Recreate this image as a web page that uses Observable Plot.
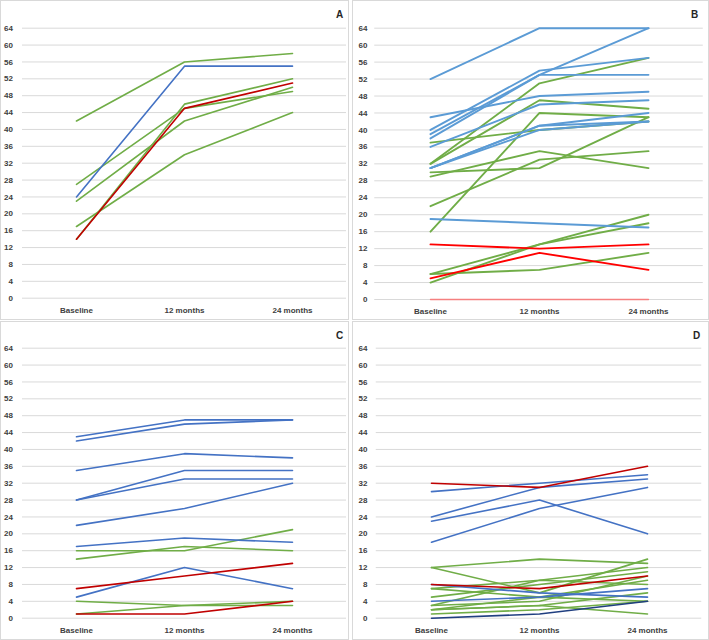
<!DOCTYPE html>
<html>
<head>
<meta charset="utf-8">
<script src="https://cdn.jsdelivr.net/npm/d3@7"></script>
<script src="https://cdn.jsdelivr.net/npm/@observablehq/plot@0.6"></script>
<style>
  html, body { margin: 0; padding: 0; background: #ffffff; }
  #root { position: relative; width: 709px; height: 640px; overflow: hidden; background: #fff; }
  .panel { position: absolute; }
  .border { position: absolute; box-sizing: border-box; border: 1px solid #d9d9d9; pointer-events: none; }
</style>
</head>
<body>
<div id="root"></div>
<script>
// ---------- data ----------
const months = ["Baseline", "12 months", "24 months"];
const yTicks = [0, 4, 8, 12, 16, 20, 24, 28, 32, 36, 40, 44, 48, 52, 56, 60, 64];
const panelLetters = ["A", "B", "C", "D"];

// Panel A
const A_green = [[42, 56, 58], [27, 45, 49], [23, 42, 50], [17, 34, 44], [14, 46, 52]];
const A_blue  = [[24, 55, 55]];
const A_red   = [[14, 45, 51]];

// Panel B
const B_green = [[37, 40, 42], [32, 51, 57], [32, 47, 45], [30, 31, 43], [29, 35, 31],
                 [22, 33, 35], [16, 44, 43], [6, 13, 20], [6, 7, 11], [4, 13, 18]];
const B_blue  = [[52, 64, 64], [43, 48, 49], [40, 54, 57], [39, 53, 64], [38, 53, 53],
                 [36, 46, 47], [31, 41, 44], [31, 41, 42], [31, 40, 42], [19, 18, 17]];
const B_red   = [[13, 12, 13], [5, 11, 7]];
const B_redZero = [[0, 0, 0]];

// Panel C
const C_green = [[16, 16, 21], [14, 17, 16], [4, 3, 3], [1, 3, 4]];
const C_blue  = [[43, 47, 47], [42, 46, 47], [35, 39, 38], [28, 35, 35], [28, 33, 33],
                 [22, 26, 32], [17, 19, 18], [5, 12, 7]];
const C_red   = [[7, 10, 13], [1, 1, 4]];

// Panel D
const D_green = [[12, 14, 13], [12, 6, 14], [7, 9, 12], [7, 5, 9], [5, 8, 11], [3, 9, 8],
                 [3, 4, 10], [2, 3, 6], [2, 5, 4], [2, 3, 1], [1, 2, 4]];
const D_blue  = [[30, 32, 34], [24, 31, 33], [23, 28, 20], [18, 26, 31], [8, 6, 5], [4, 5, 7]];
const D_navy  = [[0, 1, 4]];
const D_red   = [[32, 31, 36], [8, 7, 10]];

// ---------- layout / style (page coordinates) ----------
const layouts = {
  A: {box: [0, 0, 349, 320],   yTop: 27.7,  yBot: 297.7, xBase: 76,  x24: 292, labRight: 12.5, letter: [339, 14], blue: "#4472C4", red: "#C00000", sw: 1.6},
  B: {box: [352, 0, 357, 320], yTop: 27.7,  yBot: 299,   xBase: 429, x24: 648, labRight: 367,  letter: [694, 14], blue: "#5B9BD5", red: "#FF0000", sw: 1.9},
  C: {box: [0, 321, 349, 319], yTop: 347.7, yBot: 617.7, xBase: 76,  x24: 292, labRight: 12.5, letter: [339, 335], blue: "#4472C4", red: "#C00000", sw: 1.6},
  D: {box: [352, 321, 357, 319], yTop: 347.7, yBot: 617.7, xBase: 430, x24: 647, labRight: 367, letter: [696, 335], blue: "#4472C4", red: "#C00000", sw: 1.6}
};
const GREEN = "#70AD47";
const NAVY = "#203F80";
const LIGHTRED = "#F58080";

const panelData = {
  A: [["green", A_green], ["blue", A_blue], ["red", A_red]],
  B: [["green", B_green], ["blue", B_blue], ["lightred", B_redZero], ["red", B_red]],
  C: [["green", C_green], ["blue", C_blue], ["red", C_red]],
  D: [["green", D_green], ["blue", D_blue], ["navy", D_navy], ["red", D_red]]
};

function tidy(groups) {
  const out = [];
  groups.forEach(([color, series]) => {
    series.forEach((vals, i) => {
      vals.forEach((v, j) => out.push({id: color + i, color, t: months[j], v}));
    });
  });
  return out;
}

const root = document.getElementById("root");

panelLetters.forEach(L => {
  const c = layouts[L];
  const [bx, by, bw, bh] = c.box;
  const step = (c.x24 - c.xBase) / 2;
  const xStart = c.xBase - step / 2;
  const ml = xStart - bx;
  const mr = bw - (ml + 3 * step);
  const mt = c.yTop - by;
  const mb = by + bh - c.yBot;
  const rows = tidy(panelData[L]);
  const colorOf = {green: GREEN, blue: c.blue, red: c.red, navy: NAVY, lightred: LIGHTRED};

  const marks = [
    Plot.ruleY(yTicks, {stroke: "#d9d9d9", strokeWidth: 1}),
    Plot.axisY(yTicks, {tickSize: 0, tickPadding: xStart - c.labRight, fill: "#404040"}),
    Plot.axisX({tickSize: 0, tickPadding: 9, fill: "#404040"})
  ];
  panelData[L].forEach(([color]) => {
    marks.push(Plot.line(rows.filter(r => r.color === color), {
      x: "t", y: "v", z: "id", stroke: colorOf[color],
      strokeWidth: color === "lightred" ? 1.3 : c.sw, curve: "linear"
    }));
  });
  marks.push(Plot.text([L], {
    frameAnchor: "top-right", textAnchor: "middle", lineAnchor: "middle",
    dx: c.letter[0] - (bx + ml + 3 * step), dy: c.letter[1] - c.yTop,
    fontSize: 10, fontWeight: "bold", fill: "#262626"
  }));

  const chart = Plot.plot({
    width: bw, height: bh,
    marginLeft: ml, marginRight: mr, marginTop: mt, marginBottom: mb,
    x: {type: "point", domain: months, padding: 0.5, label: null},
    y: {domain: [0, 64], label: null},
    style: {fontFamily: "'Liberation Sans', Arial, sans-serif", fontSize: "8px", fontWeight: "bold", color: "#404040", background: "transparent", overflow: "visible"},
    marks
  });
  const wrap = document.createElement("div");
  wrap.className = "panel";
  wrap.style.left = bx + "px"; wrap.style.top = by + "px";
  wrap.style.width = bw + "px"; wrap.style.height = bh + "px";
  wrap.appendChild(chart);
  root.appendChild(wrap);
  const border = document.createElement("div");
  border.className = "border";
  border.style.left = bx + "px"; border.style.top = by + "px";
  border.style.width = bw + "px"; border.style.height = bh + "px";
  root.appendChild(border);
});
</script>
</body>
</html>
